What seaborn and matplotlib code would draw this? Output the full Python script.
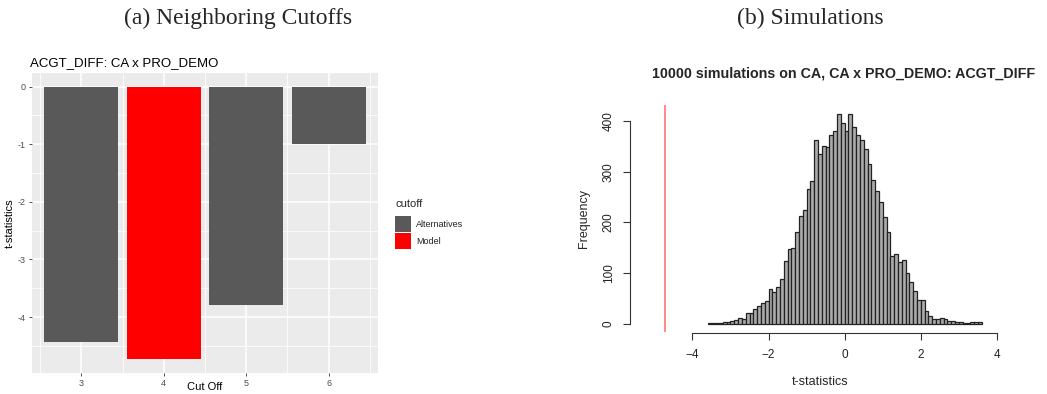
import numpy as np
import pandas as pd
import matplotlib
matplotlib.use("Agg")
import matplotlib.pyplot as plt
import seaborn as sns

# ---- data: t-statistics at neighbouring cutoffs ----
cutoffs = ["3", "4", "5", "6"]
t_stats = [-4.43, -4.73, -3.79, -1.0]
cutoff_type = ["Alternatives", "Model", "Alternatives", "Alternatives"]

# ---- data: simulated t-statistics, histogram counts in 0.1-wide bins ----
bin_left = [round(-3.6 + 0.1 * i, 1) for i in range(72)]
bin_counts = [
    1, 1, 2, 2, 3, 3, 5, 8, 12, 10, 20, 20, 28, 35, 40, 44,          # -3.6 .. -2.1
    68, 62, 72, 88, 123, 147, 150, 180, 213, 225,                      # -2.0 .. -1.1
    266, 282, 362, 335, 350, 348, 372, 380, 413, 397,                  # -1.0 .. -0.1
    380, 413, 388, 372, 362, 345, 315, 284, 262, 240,                  #  0.0 ..  0.9
    210, 180, 133, 138, 122, 125, 100, 83, 65, 47,                     #  1.0 ..  1.9
    47, 24, 15, 10, 10, 12, 10, 6, 5, 4, 3, 2, 2, 3, 4, 3,             #  2.0 ..  3.5
]
model_t = -4.73

sns.set_theme(style="white")
plt.rcParams["font.family"] = ["Liberation Sans", "DejaVu Sans"]

fig = plt.figure(figsize=(10.47, 3.94), dpi=100)

W, H = 1047, 394
def frac(x0, y0, x1, y1):
    return [x0 / W, 1 - y1 / H, (x1 - x0) / W, (y1 - y0) / H]

# ================= (a) bar chart, ggplot-like =================
ax1 = fig.add_axes(frac(32, 73, 378, 373))
df = pd.DataFrame({"cutoff_value": cutoffs, "t": t_stats, "cutoff": cutoff_type})
palette = {"Alternatives": "#595959", "Model": "#FF0000"}
sns.barplot(data=df, x="cutoff_value", y="t", hue="cutoff", palette=palette,
            dodge=False, width=0.9, ax=ax1, legend=False, saturation=1,
            edgecolor="none", zorder=3)
ax1.set_facecolor("#EBEBEB")
for s in ax1.spines.values():
    s.set_visible(False)
ax1.set_xlim(-0.6, 3.6)
ax1.set_ylim(-4.97, 0.237)
ax1.set_yticks([0, -1, -2, -3, -4])
ax1.set_yticklabels(["0", "-1", "-2", "-3", "-4"])
ax1.set_yticks([-0.5, -1.5, -2.5, -3.5, -4.5], minor=True)
ax1.set_xticks([-0.5, 0.5, 1.5, 2.5, 3.5], minor=True)
ax1.grid(which="major", color="white", linewidth=1.1, zorder=0)
ax1.grid(which="minor", color="white", linewidth=0.55, zorder=0)
ax1.set_axisbelow(True)
ax1.tick_params(axis="both", which="major", length=2.5, width=0.6, color="#333333",
                labelsize=6.5, labelcolor="#4D4D4D", pad=2, direction="out",
                bottom=True, left=True)
ax1.tick_params(axis="both", which="minor", length=0)
ax1.set_xlabel("Cut Off", fontsize=8, color="black")
ax1.xaxis.label.set_va("bottom")
ax1.xaxis.set_label_coords(0.5, -0.062)
ax1.set_ylabel("t-statistics", fontsize=8, color="black", labelpad=2)
ax1.set_title("ACGT_DIFF: CA x PRO_DEMO", fontsize=9.5, loc="left", x=-0.005,
              pad=5, color="black")

# legend drawn in figure coordinates, to the right of the panel
fig.text(395 / W, 1 - 204 / H, "cutoff", fontsize=8, va="center", ha="left")
for i, (lab, col) in enumerate(palette.items()):
    y0 = 216 + i * 17
    fig.patches.append(plt.Rectangle((395 / W, 1 - (y0 + 16) / H), 16 / W, 16 / H,
                                     transform=fig.transFigure, facecolor=col,
                                     edgecolor="none"))
    fig.text(416 / W, 1 - (y0 + 8.5) / H, lab, fontsize=6.5, va="center", ha="left",
             color="#222222")

# ================= (b) histogram, base-R-like =================
ax2 = fig.add_axes(frac(630, 105, 1011, 332))
edges = bin_left + [round(bin_left[-1] + 0.1, 1)]
centers = [b + 0.05 for b in bin_left]
sns.histplot(x=centers, weights=bin_counts, bins=edges, ax=ax2,
             color="#ABABAB", edgecolor="#222222", linewidth=0.9, alpha=1)
ax2.axvline(model_t, color="#FF8080", linewidth=1.3)
ax2.set_xlim(-5.64, 4.37)
ax2.set_ylim(-16.6, 431.6)
for side in ("top", "right"):
    ax2.spines[side].set_visible(False)
for side in ("left", "bottom"):
    ax2.spines[side].set_color("#333333")
    ax2.spines[side].set_linewidth(0.8)
ax2.spines["left"].set_bounds(0, 400)
ax2.spines["bottom"].set_bounds(-4, 4)
ax2.spines["bottom"].set_position(("outward", 1))
ax2.set_xticks([-4, -2, 0, 2, 4])
ax2.set_yticks([0, 100, 200, 300, 400])
ax2.tick_params(axis="both", length=5, width=0.8, color="#333333", labelsize=8.5,
                labelcolor="#222222", direction="out", bottom=True, left=True, pad=6)
plt.setp(ax2.get_yticklabels(), rotation=90, va="center")
ax2.set_xlabel("t-statistics", fontsize=9, labelpad=11)
ax2.set_ylabel("Frequency", fontsize=9, labelpad=9)
fig.text(844 / W, 1 - 74 / H, "10000 simulations on CA, CA x PRO_DEMO: ACGT_DIFF",
         fontsize=10.3, fontweight="bold", ha="center", va="center")

# ---- panel captions ----
fig.text(238 / W, 1 - 18 / H, "(a) Neighboring Cutoffs", family="Liberation Serif",
         fontsize=17, ha="center", va="center")
fig.text(810 / W, 1 - 18 / H, "(b) Simulations", family="Liberation Serif",
         fontsize=17, ha="center", va="center")

fig.savefig("out.png", dpi=100)
